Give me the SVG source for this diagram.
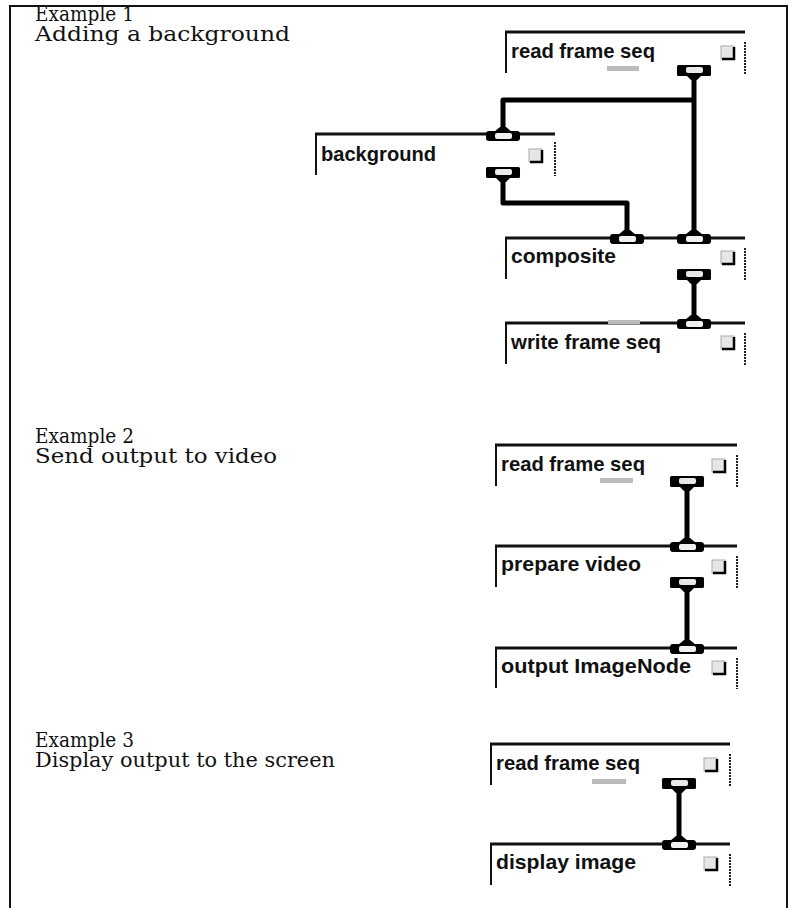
<svg xmlns="http://www.w3.org/2000/svg" width="792" height="908" viewBox="0 0 792 908">
<style>
.frame{fill:none;stroke:#111;stroke-width:2}
.lbl{font-family:"DejaVu Serif","Liberation Serif",serif;font-size:20px;fill:#111}
.nt{font-family:"Liberation Sans",Arial,sans-serif;font-weight:bold;font-size:20.5px;fill:#111}
.top{stroke:#111;stroke-width:3}
.lft{stroke:#111;stroke-width:2}
.rgt{stroke:#222;stroke-width:2;stroke-dasharray:2 1}
.wire{fill:none;stroke:#000;stroke-width:5;stroke-linejoin:round}
.cbf{fill:#e6e6e6;stroke:#aaa;stroke-width:1}
.cbd{fill:none;stroke:#000;stroke-width:2.5}
.bar{fill:#bbb}
</style>
<defs>
<g id="outport">
<path d="M-8,10 L8,10 L3,15 L-3,15 Z" fill="#000"/>
<rect x="-17" y="0" width="34" height="11" rx="1.5" fill="#000"/>
<rect x="-8" y="2" width="17" height="6" rx="2" fill="#e8e8e8"/>
</g>
<g id="inport">
<path d="M-3,-4 L3,-4 L9,1 L-9,1 Z" fill="#000"/>
<rect x="-17" y="0" width="34" height="10" rx="3" fill="#000"/>
<rect x="-8" y="2" width="17" height="6" rx="2" fill="#f0f0f0"/>
</g>
<g id="cb">
<rect x="0" y="0" width="13" height="13" class="cbf"/>
<path d="M1,13 L13,13 L13,1" class="cbd"/>
</g>
</defs>

<g id="frame">
<path class="frame" d="M10,908 L10,6 L787,6 L787,908"/>
</g>

<g id="labels">
<text class="lbl" x="35" y="21" textLength="99" lengthAdjust="spacingAndGlyphs">Example 1</text>
<text class="lbl" x="35" y="41" textLength="255" lengthAdjust="spacingAndGlyphs">Adding a background</text>
<text class="lbl" x="35" y="443" textLength="99" lengthAdjust="spacingAndGlyphs">Example 2</text>
<text class="lbl" x="35" y="463" textLength="242" lengthAdjust="spacingAndGlyphs">Send output to video</text>
<text class="lbl" x="35" y="747" textLength="99" lengthAdjust="spacingAndGlyphs">Example 3</text>
<text class="lbl" x="35" y="767" textLength="300" lengthAdjust="spacingAndGlyphs">Display output to the screen</text>
</g>

<g id="connectors">
<path class="wire" d="M694,76 L694,236"/>
<path class="wire" d="M694,100 L503,100 L503,130"/>
<path class="wire" d="M503,180 L503,203 L627,203 L627,236"/>
<path class="wire" d="M694,280 L694,321"/>
<path class="wire" d="M687,487 L687,544"/>
<path class="wire" d="M687,588 L687,646"/>
<path class="wire" d="M679,790 L679,842"/>
</g>

<g id="n1">
<line class="top" x1="505" y1="32" x2="745" y2="32"/>
<line class="lft" x1="506" y1="32" x2="506" y2="73"/>
<line class="rgt" x1="745" y1="42" x2="745" y2="74"/>
<text class="nt" x="511" y="58" textLength="144" lengthAdjust="spacingAndGlyphs">read frame seq</text>
<use href="#cb" x="721" y="46"/>
<rect class="bar" x="607" y="66" width="32" height="5"/>
<use href="#outport" x="694" y="65"/>
</g>

<g id="n2">
<line class="top" x1="315" y1="134" x2="488" y2="134"/>
<line class="top" x1="518" y1="134" x2="555" y2="134"/>
<line class="lft" x1="316" y1="134" x2="316" y2="175"/>
<line class="rgt" x1="555" y1="142" x2="555" y2="176"/>
<text class="nt" x="321" y="161" textLength="115" lengthAdjust="spacingAndGlyphs">background</text>
<use href="#cb" x="529" y="149"/>
<use href="#inport" x="503" y="131"/>
<use href="#outport" x="503" y="167"/>
</g>

<g id="n3">
<line class="top" x1="505" y1="238" x2="745" y2="238"/>
<line class="lft" x1="506" y1="238" x2="506" y2="279"/>
<line class="rgt" x1="745" y1="248" x2="745" y2="280"/>
<text class="nt" x="511" y="263" textLength="105" lengthAdjust="spacingAndGlyphs">composite</text>
<use href="#cb" x="721" y="251"/>
<use href="#inport" x="627" y="234"/>
<use href="#inport" x="694" y="234"/>
<use href="#outport" x="694" y="269"/>
</g>

<g id="n4">
<line class="top" x1="505" y1="323" x2="745" y2="323"/>
<line class="lft" x1="506" y1="323" x2="506" y2="364"/>
<line class="rgt" x1="745" y1="333" x2="745" y2="365"/>
<rect class="bar" x="608" y="320" width="32" height="4"/>
<text class="nt" x="511" y="349" textLength="150" lengthAdjust="spacingAndGlyphs">write frame seq</text>
<use href="#cb" x="721" y="336"/>
<use href="#inport" x="694" y="319"/>
</g>

<g id="n5">
<line class="top" x1="495" y1="445" x2="737" y2="445"/>
<line class="lft" x1="496" y1="445" x2="496" y2="486"/>
<line class="rgt" x1="737" y1="455" x2="737" y2="487"/>
<text class="nt" x="501" y="471" textLength="144" lengthAdjust="spacingAndGlyphs">read frame seq</text>
<use href="#cb" x="712" y="459"/>
<rect class="bar" x="600" y="478" width="33" height="5"/>
<use href="#outport" x="687" y="476"/>
</g>

<g id="n6">
<line class="top" x1="495" y1="546" x2="737" y2="546"/>
<line class="lft" x1="496" y1="546" x2="496" y2="587"/>
<line class="rgt" x1="737" y1="556" x2="737" y2="588"/>
<text class="nt" x="501" y="571" textLength="140" lengthAdjust="spacingAndGlyphs">prepare video</text>
<use href="#cb" x="712" y="560"/>
<use href="#inport" x="687" y="542"/>
<use href="#outport" x="687" y="577"/>
</g>

<g id="n7">
<line class="top" x1="495" y1="648" x2="737" y2="648"/>
<line class="lft" x1="496" y1="648" x2="496" y2="688"/>
<line class="rgt" x1="737" y1="658" x2="737" y2="689"/>
<text class="nt" x="501" y="673" textLength="190" lengthAdjust="spacingAndGlyphs">output ImageNode</text>
<use href="#cb" x="712" y="661"/>
<use href="#inport" x="687" y="644"/>
</g>

<g id="n8">
<line class="top" x1="490" y1="744" x2="730" y2="744"/>
<line class="lft" x1="491" y1="744" x2="491" y2="785"/>
<line class="rgt" x1="730" y1="754" x2="730" y2="786"/>
<text class="nt" x="496" y="770" textLength="144" lengthAdjust="spacingAndGlyphs">read frame seq</text>
<use href="#cb" x="704" y="758"/>
<rect class="bar" x="592" y="779" width="34" height="5"/>
<use href="#outport" x="679" y="778"/>
</g>

<g id="n9">
<line class="top" x1="490" y1="844" x2="730" y2="844"/>
<line class="lft" x1="491" y1="844" x2="491" y2="885"/>
<line class="rgt" x1="730" y1="854" x2="730" y2="886"/>
<text class="nt" x="496" y="869" textLength="140" lengthAdjust="spacingAndGlyphs">display image</text>
<use href="#cb" x="704" y="857"/>
<use href="#inport" x="679" y="840"/>
</g>
</svg>
